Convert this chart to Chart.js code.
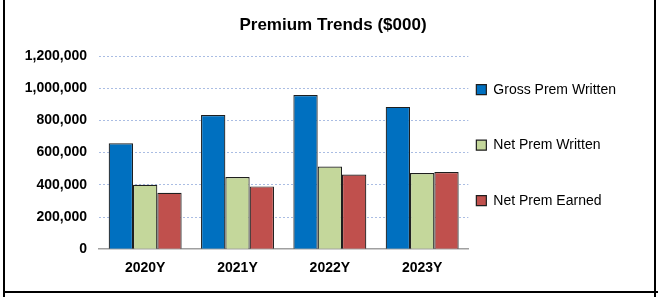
<!DOCTYPE html>
<html>
<head>
<meta charset="utf-8">
<script src="https://cdn.jsdelivr.net/npm/chart.js@4.4.1/dist/chart.umd.min.js"></script>
<style>
  html, body { margin: 0; padding: 0; background: #fff; }
  #wrap { position: relative; width: 658px; height: 297px; overflow: hidden; }
  #premChart { position: absolute; left: 0; top: 0; }
  .edge { position: absolute; background: #000; }
</style>
</head>
<body>
<div id="wrap">
  <canvas id="premChart" width="658" height="297"></canvas>
  <div class="edge" style="left:3px;top:0;width:2px;height:297px"></div>
  <div class="edge" style="left:654px;top:0;width:2px;height:297px"></div>
  <div class="edge" style="left:3px;top:291px;width:655px;height:2px"></div>
</div>
<script>
// ====== data ======
const years = ["2020Y", "2021Y", "2022Y", "2023Y"];
const grossPremWritten = [658000, 834000, 957000, 884000];
const netPremWritten = [400000, 448000, 514000, 473000];
const netPremEarned = [350000, 390000, 464000, 479000];
const seriesNames = ["Gross Prem Written", "Net Prem Written", "Net Prem Earned"];
const yTicks = [0, 200000, 400000, 600000, 800000, 1000000, 1200000];

const FONT = "'Liberation Sans', Arial, sans-serif";

let ctx = document.getElementById("premChart").getContext("2d");

function bars(label, data, color) {
  return {
    label: label,
    data: data,
    backgroundColor: color,
    borderColor: "#1e1e1e",
    borderWidth: 1.2,
    barPercentage: 1,
    categoryPercentage: 0.79
  };
}

let premChart = new Chart(ctx, {
  type: "bar",
  data: {
    labels: years,
    datasets: [
      bars(seriesNames[0], grossPremWritten, "#0070c0"),
      bars(seriesNames[1], netPremWritten, "#c4d79b"),
      bars(seriesNames[2], netPremEarned, "#c0504d")
    ]
  },
  options: {
    responsive: false,
    animation: false,
    layout: { padding: { left: 16, right: 8, top: 0, bottom: 9 } },
    plugins: {
      title: {
        display: true,
        text: "Premium Trends ($000)",
        color: "#000",
        font: { family: FONT, size: 17, weight: "bold", lineHeight: 1.2 },
        padding: { top: 15, bottom: 20.6 }
      },
      legend: {
        position: "right",
        align: "end",
        fullSize: false,
        maxWidth: 170,
        labels: {
          boxWidth: 10,
          boxHeight: 10,
          padding: 8,
          color: "#000",
          font: { family: FONT, size: 14, lineHeight: "47.5px" },
          // array text so each row gets the tall line height
          generateLabels: chart =>
            Chart.defaults.plugins.legend.labels.generateLabels(chart)
              .map(l => Object.assign(l, { text: [l.text] }))
        }
      },
      tooltip: { enabled: false }
    },
    scales: {
      x: {
        grid: { display: false, drawTicks: false },
        border: { display: true, color: "#a0a0a0", width: 1.5 },
        ticks: {
          padding: 11,
          color: "#000",
          font: { family: FONT, size: 14, weight: "bold" }
        }
      },
      y: {
        min: 0,
        max: 1200000,
        afterFit: s => { s.width = 83; },
        afterBuildTicks: s => { s.ticks = yTicks.map(v => ({ value: v })); },
        grid: {
          drawTicks: false,
          color: c => (c.tick && c.tick.value === 0 ? "rgba(0,0,0,0)" : "#aabde3"),
          lineWidth: 1
        },
        border: { display: false, dash: [2, 2] },
        ticks: {
          padding: 12,
          color: "#000",
          font: { family: FONT, size: 14, weight: "bold" },
          callback: v => v.toLocaleString("en-US")
        }
      },
      // empty spacer on the far right so the title centres like the original
      spacer: {
        type: "linear",
        axis: "y",
        position: "right",
        weight: 2000,
        afterFit: s => { s.width = 24; },
        grid: { display: false, drawTicks: false },
        border: { display: false },
        ticks: { display: false }
      }
    }
  }
});
</script>
</body>
</html>
